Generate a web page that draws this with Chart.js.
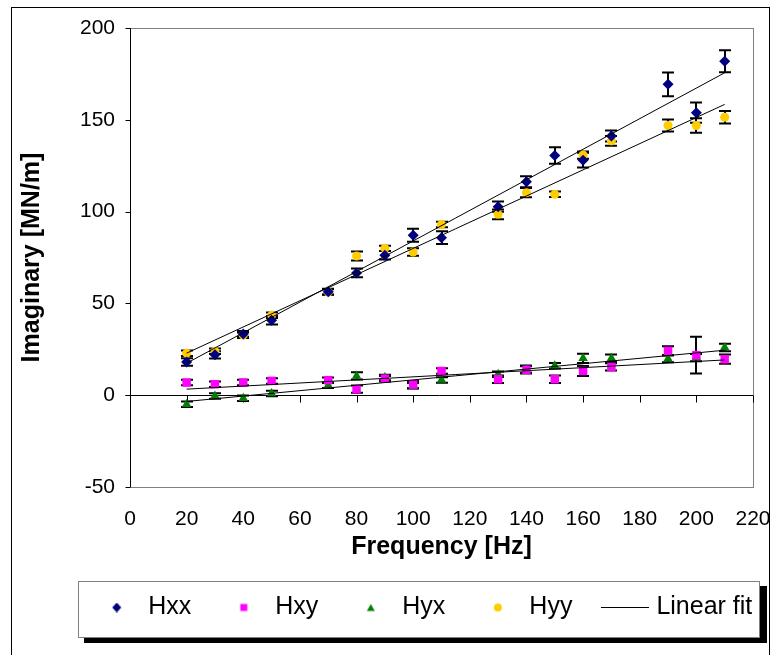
<!DOCTYPE html>
<html>
<head>
<meta charset="utf-8">
<script src="https://cdn.jsdelivr.net/npm/chart.js@4.4.0/dist/chart.umd.min.js"></script>
<style>
  html, body { margin: 0; padding: 0; background: #fff; }
  canvas { display: block; }
</style>
</head>
<body>
<canvas id="chart" width="771" height="655"></canvas>
<script>
// Frequências medidas [Hz]
const freq = [20, 30, 40, 50, 70, 80, 90, 100, 110, 130, 140, 150, 160, 170, 190, 200, 210];

// Parte imaginária [MN/m] e barras de erro
const hxx    = [18.1, 22, 33.4, 40.8, 56.4, 66.6, 76.2, 87.1, 85.8, 102.7, 116.3, 130.5, 128, 141.2, 169.3, 153.9, 181.9];
const hxxErr = [2, 2, 1.5, 2.3, 1.6, 2.4, 2.3, 3.5, 3.5, 2.8, 3, 4.5, 4, 3, 6.5, 5.5, 6];
const hxy    = [6.9, 6, 6.9, 7.8, 8.2, 3.3, 9, 5.8, 13.2, 8.7, 13.8, 8.7, 13.2, 15.4, 24.1, 21.8, 19.6];
const hxyErr = [1.5, 1.5, 1.5, 1.5, 1.5, 2, 1.5, 2, 1.5, 2, 2, 2, 2.7, 2, 2.5, 10, 2.5];
const hyx    = [-4.9, -0.4, -1.6, 0.9, 5.4, 10.5, 9.6, 5.1, 8.3, 11.4, 14.2, 16, 20.1, 20.1, 19.9, 20.5, 26];
const hyxErr = [1.5, 1.5, 1.5, 1.5, 1.5, 2, 1.5, 1.5, 1.5, 1.5, 2, 1.5, 2.5, 2, 2, 2, 2];
const hyy    = [22.9, 24, 32.7, 43.5, 56.2, 75.8, 80, 78, 93, 98.5, 110.3, 109.4, 130.8, 138.5, 146.9, 146.9, 151.4];
const hyyErr = [1.5, 1.5, 1.5, 1.5, 1.5, 2.4, 1.4, 2, 1.5, 2.7, 2.5, 1.5, 2, 2.7, 3.3, 4, 3.4];

// Retas de ajuste (extremos)
const fitX   = [20, 210];
const hxxFit = [17.4, 175.6];
const hxyFit = [3.3, 19.2];
const hyxFit = [-3.4, 24.5];
const hyyFit = [22.9, 158.4];

const xTicks = [0, 20, 40, 60, 80, 100, 120, 140, 160, 180, 200, 220];
const yTicks = [-50, 0, 50, 100, 150, 200];

const FONT = "'Liberation Sans', Arial, sans-serif";

const toPoints = (xs, ys) => xs.map((v, i) => ({ x: v, y: ys[i] }));

// Pequenos ícones para a legenda
function legendIcon(kind, color) {
    const c = document.createElement('canvas');
    const g = c.getContext('2d');
    if (kind === 'line') {
        c.width = 48; c.height = 3;
        g.fillStyle = '#000';
        g.fillRect(0, 1, 48, 1);
        return c;
    }
    c.width = 10; c.height = 10;
    g.fillStyle = color;
    g.beginPath();
    if (kind === 'diamond') {
        g.moveTo(5, 0); g.lineTo(9.5, 5); g.lineTo(5, 10); g.lineTo(0.5, 5);
    } else if (kind === 'square') {
        g.rect(1.5, 1.5, 7, 7);
    } else if (kind === 'triangle') {
        g.moveTo(5, 1.5); g.lineTo(9, 8.5); g.lineTo(1, 8.5);
    } else {
        g.arc(5, 5, 4, 0, Math.PI * 2);
    }
    g.closePath();
    g.fill();
    return c;
}

const legendItems = [
    { text: 'Hxx', icon: legendIcon('diamond', '#000080') },
    { text: 'Hxy', icon: legendIcon('square', '#FF00FF') },
    { text: 'Hyx', icon: legendIcon('triangle', '#008000') },
    { text: 'Hyy', icon: legendIcon('circle', '#FFCC00') },
    { text: 'Linear fit', icon: legendIcon('line') }
];

// Molduras, eixos e caixa da legenda
const framePlugin = {
    id: 'frame',
    beforeDraw(chart) {
        const { ctx } = chart;
        ctx.save();
        ctx.fillStyle = '#fff';
        ctx.fillRect(0, 0, chart.width, chart.height);
        ctx.strokeStyle = '#000';
        ctx.lineWidth = 1;
        ctx.strokeRect(11.5, 7.5, 758, 700);

        // caixa da legenda com sombra
        ctx.fillStyle = '#000';
        ctx.fillRect(84, 586, 683, 57);
        ctx.fillStyle = '#fff';
        ctx.fillRect(78, 581, 682, 57);
        ctx.strokeStyle = '#808080';
        ctx.strokeRect(78.5, 581.5, 681, 56);
        ctx.restore();

        // legenda numa só linha, centrada na caixa
        const lg = chart.legend;
        lg.lineWidths = [lg.lineWidths.reduce((s, w) => s + w, 0)];
        lg.left = 20;
        lg.right = 830;
        lg.top = 561.5;
    },
    beforeDatasetsDraw(chart) {
        const { ctx, chartArea: a, scales: { x, y } } = chart;
        ctx.save();
        ctx.lineWidth = 1;
        ctx.strokeStyle = '#808080';
        ctx.strokeRect(Math.round(a.left) + 0.5, Math.round(a.top) + 0.5,
            Math.round(a.right - a.left), Math.round(a.bottom - a.top));

        ctx.strokeStyle = '#000';
        ctx.beginPath();
        const ax = Math.round(a.left) + 0.5;
        ctx.moveTo(ax, a.top); ctx.lineTo(ax, a.bottom);
        yTicks.forEach(v => {
            const py = Math.round(y.getPixelForValue(v)) + 0.5;
            ctx.moveTo(ax - 5, py); ctx.lineTo(ax, py);
        });
        const zy = Math.round(y.getPixelForValue(0)) + 0.5;
        ctx.moveTo(ax - 5, zy); ctx.lineTo(a.right, zy);
        xTicks.forEach(v => {
            const px = Math.round(x.getPixelForValue(v)) + 0.5;
            ctx.moveTo(px, zy); ctx.lineTo(px, zy + 7);
        });
        ctx.stroke();

        // barras de erro
        ctx.lineWidth = 2;
        chart.data.datasets.forEach(ds => {
            if (!ds.errors) return;
            ds.data.forEach((p, i) => {
                const px = Math.round(x.getPixelForValue(p.x));
                const top = y.getPixelForValue(p.y + ds.errors[i]);
                const bot = y.getPixelForValue(p.y - ds.errors[i]);
                ctx.beginPath();
                ctx.moveTo(px, top); ctx.lineTo(px, bot);
                ctx.moveTo(px - 6, top); ctx.lineTo(px + 6, top);
                ctx.moveTo(px - 6, bot); ctx.lineTo(px + 6, bot);
                ctx.stroke();
            });
        });
        ctx.restore();
    }
};

const markerSet = (label, data, errors, color, style, radius) => ({
    label: label,
    data: data,
    errors: errors,
    order: 2,
    showLine: false,
    pointStyle: style,
    pointRadius: radius,
    pointBackgroundColor: color,
    pointBorderColor: color,
    pointBorderWidth: 0
});

const fitSet = (label, data) => ({
    label: label,
    data: data,
    order: 1,
    showLine: true,
    borderColor: '#000',
    borderWidth: 1,
    pointRadius: 0
});

new Chart(document.getElementById('chart'), {
    type: 'scatter',
    data: {
        datasets: [
            markerSet('Hxx', toPoints(freq, hxx), hxxErr, '#000080', 'rectRot', 5.5),
            markerSet('Hxy', toPoints(freq, hxy), hxyErr, '#FF00FF', 'rect', 6),
            markerSet('Hyx', toPoints(freq, hyx), hyxErr, '#008000', 'triangle', 5.5),
            markerSet('Hyy', toPoints(freq, hyy), hyyErr, '#FFCC00', 'circle', 4.5),
            fitSet('fit Hxx', toPoints(fitX, hxxFit)),
            fitSet('fit Hxy', toPoints(fitX, hxyFit)),
            fitSet('fit Hyx', toPoints(fitX, hyxFit)),
            fitSet('fit Hyy', toPoints(fitX, hyyFit))
        ]
    },
    options: {
        responsive: false,
        animation: false,
        devicePixelRatio: 1,
        layout: {
            padding: { top: 28, left: 12, right: 18, bottom: 35 }
        },
        plugins: {
            tooltip: { enabled: false },
            legend: {
                position: 'bottom',
                maxHeight: 58,
                labels: {
                    usePointStyle: true,
                    pointStyleWidth: 38,
                    padding: 33.5,
                    color: '#000',
                    font: { family: FONT, size: 25 },
                    generateLabels() {
                        return legendItems.map(item => ({
                            text: item.text,
                            pointStyle: item.icon,
                            fillStyle: '#000',
                            strokeStyle: '#000',
                            lineWidth: 0,
                            hidden: false
                        }));
                    }
                }
            }
        },
        scales: {
            x: {
                type: 'linear',
                min: 0,
                max: 220,
                grid: { display: false, drawTicks: false },
                border: { display: false },
                ticks: {
                    stepSize: 20,
                    autoSkip: false,
                    maxRotation: 0,
                    padding: 20,
                    color: '#000',
                    font: { family: FONT, size: 21 }
                },
                title: {
                    display: true,
                    text: 'Frequency [Hz]',
                    color: '#000',
                    padding: { top: 0, bottom: 0 },
                    font: { family: FONT, size: 25, weight: 'bold' }
                },
                afterFit(s) {
                    s.paddingLeft = 0;
                    s.paddingRight = 0;
                    s.height = 75;
                }
            },
            y: {
                min: -50,
                max: 200,
                grid: { display: false, drawTicks: false },
                border: { display: false },
                ticks: {
                    stepSize: 50,
                    padding: 15,
                    color: '#000',
                    font: { family: FONT, size: 21 }
                },
                title: {
                    display: true,
                    text: 'Imaginary [MN/m]',
                    color: '#000',
                    padding: { top: 5, bottom: 0 },
                    font: { family: FONT, size: 25, weight: 'bold' }
                },
                afterFit(s) {
                    s.paddingTop = 0;
                    s.paddingBottom = 0;
                    s.width = 118;
                }
            }
        }
    },
    plugins: [framePlugin]
});
</script>
</body>
</html>
